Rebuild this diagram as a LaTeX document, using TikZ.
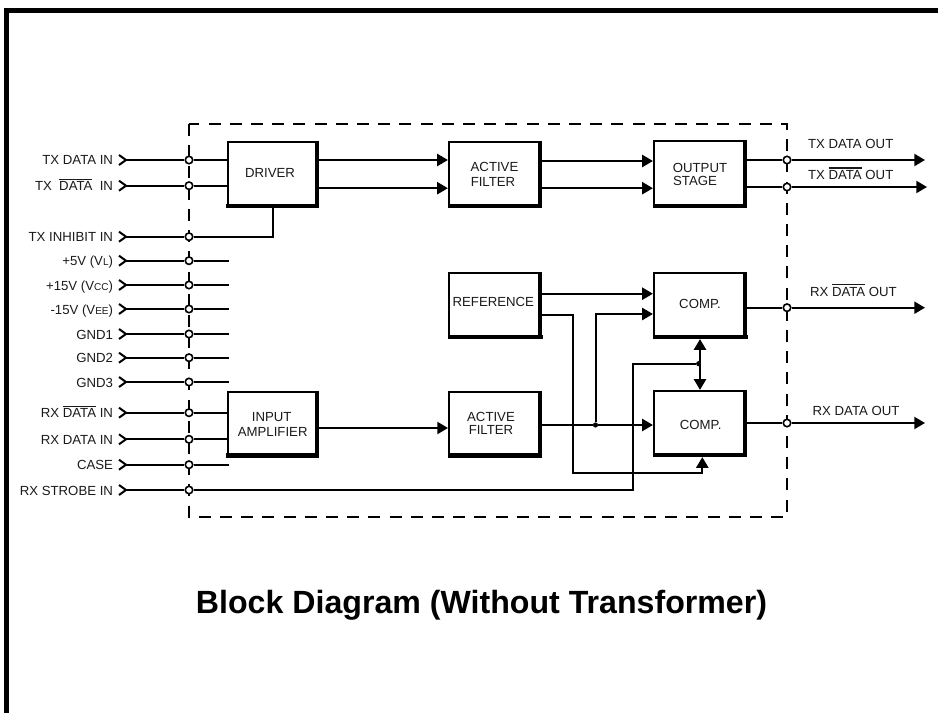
\documentclass[tikz,border=0pt]{standalone}
\usepackage{fontspec}
\setmainfont{Liberation Sans}
\usetikzlibrary{arrows.meta}
\newdimen\px \px=0.75pt
\definecolor{ink}{HTML}{1A1A1A}
\newcommand\ovl[1]{\setbox0\hbox{#1}\rlap{\raise7.9pt\hbox{\vrule width\wd0 height1.2pt depth0pt}}\box0\relax}
\newcommand\blktext[3]{\kern#1\px\smash{\raise-#2\px\hbox to 0pt{\hss#3\hss}}\kern-#1\px}
\newcommand\smc[1]{{\fontsize{7.5}{9}\selectfont #1}}
\tikzset{
  conn/.style={line width=2*0.75pt,line join=miter},
  arr/.style={conn,-{Triangle[length=8pt,width=9pt]}},
  dbl/.style={conn,{Triangle[length=8pt,width=9pt]}-{Triangle[length=8pt,width=9pt]}},
  lbl/.style={font=\fontsize{9.9}{11}\selectfont,text=ink,inner sep=0pt,outer sep=0pt},
  port/.style={circle,draw,fill=white,line width=1.6*0.75pt,minimum size=5.6pt,inner sep=0pt},
  dot/.style={circle,fill,minimum size=3.8pt,inner sep=0pt},
  blockbox/.style={draw,line width=2*0.75pt,inner sep=0pt,
    font=\fontsize{9.9}{11}\selectfont,text=ink}
}
% name, cx, cy, w, h, text, left overhang, right overhang
\newcommand\block[8]{%
  \node[blockbox,minimum width=#4*0.75pt,minimum height=#5*0.75pt] (#1) at (#2,#3) {#6};
  \draw[line width=3.7*0.75pt] ([xshift=-1.85*0.75pt]#1.north east) -- ([xshift=-1.85*0.75pt]#1.south east);
  \draw[line width=4.4*0.75pt] ([xshift=-#7*0.75pt,yshift=2.2*0.75pt]#1.south west) -- ([xshift=#8*0.75pt,yshift=2.2*0.75pt]#1.south east);
}
% id, y, label
\newcommand\pin[3]{%
  \node[lbl,anchor=base east] (l#1) at (113,#2+5) {#3};
  \coordinate (t#1) at (126,#2);
  \draw[conn] (119,#2-5) -- (t#1) -- (119,#2+5);
  \node[port] (p#1) at (189,#2) {};
  \draw[conn] (t#1) -- (p#1);
}
% id, y, tip x
\newcommand\outpin[3]{%
  \node[port] (p#1) at (787,#2) {};
  \coordinate (e#1) at (#3,#2);
  \draw[arr] (p#1) -- (e#1);
}
\begin{document}
\begin{tikzpicture}[x=0.75pt,y=-0.75pt]
\useasboundingbox (0,0) rectangle (938,713);
\fill[white] (0,0) rectangle (938,713);
% frame
\draw[line width=5*0.75pt] (6.5,713) -- (6.5,10.5) -- (938,10.5);
% dashed boundary
\coordinate (bTL) at (189,124);
\coordinate (bBR) at (787,517);
\draw[line width=1.6*0.75pt,dash pattern=on 9pt off 6.9pt] (bTL) rectangle (bBR);
% blocks
\block{driver}{273.25}{174.35}{89.7}{65.5}{\blktext{-3.25}{3}{DRIVER}}{1.5}{0}
\block{activeA}{494.85}{174.5}{91.9}{65.2}{\blktext{-0.35}{-2.8}{ACTIVE}\blktext{-1.85}{11.5}{FILTER}}{0}{0}
\block{output}{700}{174.25}{92.2}{65.7}{\blktext{0}{-1.95}{OUTPUT}\blktext{-5}{11.05}{STAGE}}{0}{0}
\block{reference}{495}{305.35}{92}{65.5}{\blktext{-1.7}{0.65}{REFERENCE}}{0}{1}
\block{compA}{700}{305.35}{92.2}{65.5}{\blktext{0}{3}{COMP.}}{0}{1}
\block{compB}{700}{423.5}{92.2}{65.2}{\blktext{0.7}{5.8}{COMP.}}{0}{0}
\block{amp}{273.25}{424.2}{89.7}{65.2}{\blktext{-1.55}{-3.2}{INPUT}\blktext{-0.55}{12.5}{AMPLIFIER}}{1.5}{0}
\block{activeB}{495}{424.2}{92}{65.2}{\blktext{-4}{-2.9}{ACTIVE}\blktext{-4}{9.8}{FILTER}}{0}{0}
% input pins
\pin{txd}{160}{TX DATA IN}
\pin{txn}{185.7}{TX\ \ \ovl{DATA}\ \ IN}
\pin{inh}{236.7}{TX INHIBIT IN}
\pin{vl}{260.7}{+5V (V\smc{L})}
\pin{vcc}{285}{+15V (V\smc{CC})}
\pin{vee}{309}{-15V (V\smc{EE})}
\pin{gnda}{334}{GND1}
\pin{gndb}{357.7}{GND2}
\pin{gndc}{382}{GND3}
\pin{rxn}{412.7}{RX \ovl{DATA} IN}
\pin{rxd}{439.3}{RX DATA IN}
\pin{case}{464.7}{CASE}
\pin{stb}{490}{RX STROBE IN}
\draw[conn] (ptxd) -- (driver.west |- ptxd);
\draw[conn] (ptxn) -- (driver.west |- ptxn);
\draw[conn] (pinh) -| (driver.south);
\draw[conn] (prxn) -- (amp.west |- prxn);
\draw[conn] (prxd) -- (amp.west |- prxd);
% power stubs
\foreach \n in {vl,vcc,vee,gnda,gndb,gndc,case}{
  \draw[conn] (p\n) -- (229,0 |- p\n);
}
% output pins
\outpin{otxd}{160}{925}
\outpin{otxn}{187}{927}
\outpin{orxn}{307.7}{925}
\outpin{orxd}{423}{925}
\node[lbl,anchor=base west] (lotxd) at (808,148.3) {TX DATA OUT};
\node[lbl,anchor=base west] (lotxn) at (808,179.3) {TX \ovl{DATA} OUT};
\node[lbl,anchor=base west] (lorxn) at (810,296) {RX \ovl{DATA} OUT};
\node[lbl,anchor=base west] (lorxd) at (812.7,415.7) {RX DATA OUT};
\draw[conn] (output.east |- potxd) -- (potxd);
\draw[conn] (output.east |- potxn) -- (potxn);
\draw[conn] (compA.east |- porxn) -- (porxn);
\draw[conn] (compB.east |- porxd) -- (porxd);
% row levels
\coordinate (rowA) at (0,160);
\coordinate (rowB) at (0,188.2);
\coordinate (rowC) at (0,161);
\coordinate (rowD) at (0,293.7);
\coordinate (rowE) at (0,315);
\coordinate (rowF) at (0,314);
\coordinate (rowG) at (0,428);
% driver -> filter -> output
\draw[arr] (driver.east |- rowA) -- (activeA.west |- rowA);
\draw[arr] (driver.east |- rowB) -- (activeA.west |- rowB);
\draw[arr] (activeA.east |- rowC) -- (output.west |- rowC);
\draw[arr] (activeA.east |- rowB) -- (output.west |- rowB);
% receive path
\draw[arr] (amp.east |- rowG) -- (activeB.west |- rowG);
\node[dot] (jA) at (595.5,425) {};
\node[dot] (jB) at (698.6,363.7) {};
\draw[conn] (activeB.east |- jA) -- (jA);
\draw[arr] (jA) -- (compB.west |- jA);
\draw[arr] (jA) |- (compA.west |- rowF);
\draw[arr] (reference.east |- rowD) -- (compA.west |- rowD);
\coordinate (rA) at (573,315);
\coordinate (rB) at (573,472.7);
\coordinate (rC) at (702.3,472.7);
\draw[arr] (reference.east |- rowE) -- (rA) -- (rB) -- (rC) -- (rC |- compB.south);
% strobe
\coordinate (sA) at (633,490);
\coordinate (sB) at (633,363.7);
\draw[conn] (pstb) -- (sA) -- (sB) -- (jB);
\draw[dbl] (compA.south) -- (compB.north);
% title
\node[inner sep=0pt,anchor=base,font=\fontsize{24.1}{28}\selectfont\bfseries] (title) at (481.5,613.4) {Block Diagram (Without Transformer)};
\end{tikzpicture}
\end{document}
